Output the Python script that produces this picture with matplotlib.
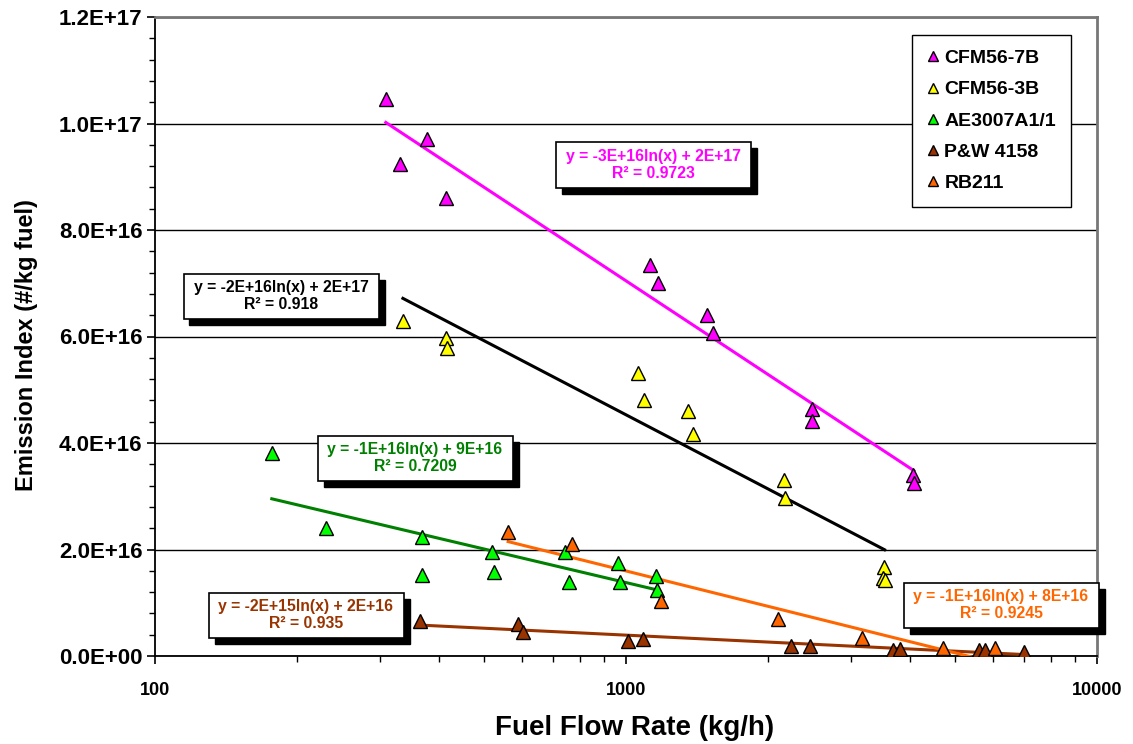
import numpy as np
import matplotlib
matplotlib.use('Agg')
import matplotlib.pyplot as plt
from matplotlib.patches import Rectangle
from matplotlib.ticker import LogLocator, MultipleLocator, NullFormatter, FuncFormatter, FixedLocator

plt.rcParams['font.family'] = ['Liberation Sans', 'DejaVu Sans']
plt.rcParams['font.weight'] = 'bold'

# ---------------- data ----------------
series_names = ['CFM56-7B', 'CFM56-3B', 'AE3007A1/1', 'P&W 4158', 'RB211']

cfm7b_x = [309, 331, 378, 415, 1125, 1169, 1486, 1530, 2485, 2485, 4065, 4085]
cfm7b_y = [10.46e16, 9.24e16, 9.71e16, 8.6e16, 7.34e16, 7.0e16, 6.41e16, 6.06e16,
           4.63e16, 4.42e16, 3.4e16, 3.24e16]

cfm3b_x = [336, 415, 417, 1060, 1092, 1354, 1387, 2165, 2175, 3530, 3520, 3540]
cfm3b_y = [6.30e16, 5.98e16, 5.79e16, 5.32e16, 4.80e16, 4.61e16, 4.16e16, 3.31e16,
           2.97e16, 1.67e16, 1.47e16, 1.43e16]

ae_x = [177, 231, 369, 369, 519, 525, 741, 758, 961, 971, 1158, 1164]
ae_y = [3.82e16, 2.41e16, 2.24e16, 1.52e16, 1.96e16, 1.58e16, 1.96e16, 1.39e16,
        1.75e16, 1.39e16, 1.50e16, 1.24e16]

pw_x = [365, 590, 604, 1009, 1087, 2240, 2460, 3690, 3820, 5610, 5780, 6995]
pw_y = [0.66e16, 0.60e16, 0.45e16, 0.28e16, 0.32e16, 0.19e16, 0.19e16, 0.12e16,
        0.13e16, 0.11e16, 0.11e16, 0.075e16]

rb_x = [562, 768, 1186, 2102, 3170, 4710, 6070]
rb_y = [2.33e16, 2.10e16, 1.03e16, 0.70e16, 0.34e16, 0.15e16, 0.15e16]

eq_texts = ['y = -3E+16ln(x) + 2E+17\nR² = 0.9723',
            'y = -2E+16ln(x) + 2E+17\nR² = 0.918',
            'y = -1E+16ln(x) + 9E+16\nR² = 0.7209',
            'y = -2E+15ln(x) + 2E+16\nR² = 0.935',
            'y = -1E+16ln(x) + 8E+16\nR² = 0.9245']

y_ticks = [0, 2e16, 4e16, 6e16, 8e16, 1e17, 1.2e17]
x_ticks = [100, 1000, 10000]

# ---------------- styles ----------------
marker_colors = ['#FF00FF', '#FFFF00', '#00FF00', '#993300', '#FF6600']
line_colors = ['#FF00FF', '#000000', '#008000', '#993300', '#FF6600']
eq_colors = ['#FF00FF', '#000000', '#008000', '#993300', '#FF6600']
# box centers in pixels (x, y from top)
eq_pos = [(653, 165), (281, 296), (415, 458), (306, 615), (1001, 605)]
box_w, box_h = 195, 45
shadow_dx, shadow_dy = 6, 6

W, H = 1133, 744
fig = plt.figure(figsize=(W / 100, H / 100), dpi=100)
ax = fig.add_axes([155 / W, 1 - 656 / H, (1097 - 155) / W, (656 - 17) / H])

xs = [cfm7b_x, cfm3b_x, ae_x, pw_x, rb_x]
ys = [cfm7b_y, cfm3b_y, ae_y, pw_y, rb_y]

for i in range(5):
    x = np.array(xs[i], dtype=float)
    y = np.array(ys[i], dtype=float)
    b, a = np.polyfit(np.log(x), y, 1)
    xx = np.geomspace(x.min(), x.max(), 200)
    ax.plot(xx, a + b * np.log(xx), color=line_colors[i], lw=2.2, zorder=3)

for i in range(5):
    ax.plot(xs[i], ys[i], linestyle='none', marker='^', markersize=9.5,
            markerfacecolor=marker_colors[i], markeredgecolor='black',
            markeredgewidth=1.0, label=series_names[i], zorder=4)

ax.set_xscale('log')
ax.set_xlim(100, 10000)
ax.set_ylim(0, 1.2e17)
ax.xaxis.set_major_locator(FixedLocator(x_ticks))
ax.xaxis.set_major_formatter(FuncFormatter(lambda v, p: f'{int(round(v))}'))
ax.xaxis.set_minor_locator(LogLocator(base=10, subs=np.arange(2, 10)))
ax.xaxis.set_minor_formatter(NullFormatter())
ax.yaxis.set_major_locator(FixedLocator(y_ticks))
ax.yaxis.set_minor_locator(MultipleLocator(4e15))
ax.yaxis.set_major_formatter(FuncFormatter(lambda v, p: f'{v:.1E}'))

ax.grid(axis='y', which='major', color='black', lw=1.0, zorder=1)
ax.set_axisbelow(True)
ax.tick_params(axis='both', which='major', direction='out', length=6, width=1.2,
               colors='black')
ax.tick_params(axis='y', which='major', labelsize=16, pad=3)
ax.tick_params(axis='x', which='major', labelsize=13, pad=13)
ax.tick_params(axis='both', which='minor', direction='out', length=4, width=1.0)
for lab in ax.get_xticklabels() + ax.get_yticklabels():
    lab.set_fontweight('bold')

ax.spines['left'].set_linewidth(1.3)
ax.spines['bottom'].set_linewidth(1.3)
ax.spines['top'].set_color('#777777')
ax.spines['right'].set_color('#777777')
ax.spines['top'].set_linewidth(2)
ax.spines['right'].set_linewidth(2)

ax.set_xlabel('Fuel Flow Rate (kg/h)', fontsize=20, fontweight='bold', va='center')
ax.xaxis.set_label_coords((635 - 155) / 942, (656 - 728) / 639)
ax.set_ylabel('Emission Index (#/kg fuel)', fontsize=17, fontweight='bold', va='center')
ax.yaxis.set_label_coords((27 - 155) / 942, (656 - 345) / 639)

leg = ax.legend(loc='upper left', bbox_to_anchor=(0.804, 0.972), borderaxespad=0,
                prop={'size': 14, 'weight': 'bold'}, frameon=True, fancybox=False,
                edgecolor='black', framealpha=1, markerscale=0.7, handlelength=0.6,
                handletextpad=0.3, labelspacing=0.7, borderpad=0.75)
leg.get_frame().set_linewidth(1.0)
leg.set_zorder(10)

for i in range(5):
    cx, cy = eq_pos[i]
    x0 = (cx - box_w / 2) / W
    y0 = 1 - (cy + box_h / 2) / H
    fig.add_artist(Rectangle((x0 + shadow_dx / W, y0 - shadow_dy / H), box_w / W, box_h / H,
                             transform=fig.transFigure, facecolor='black',
                             edgecolor='black', zorder=7))
    fig.add_artist(Rectangle((x0, y0), box_w / W, box_h / H,
                             transform=fig.transFigure, facecolor='white',
                             edgecolor='black', lw=1.2, zorder=8))
    fig.text(cx / W, 1 - cy / H, eq_texts[i], ha='center', va='center',
             multialignment='center', fontsize=11.3, fontweight='bold',
             color=eq_colors[i], linespacing=1.1, zorder=9)

fig.savefig('out.png', dpi=100)
